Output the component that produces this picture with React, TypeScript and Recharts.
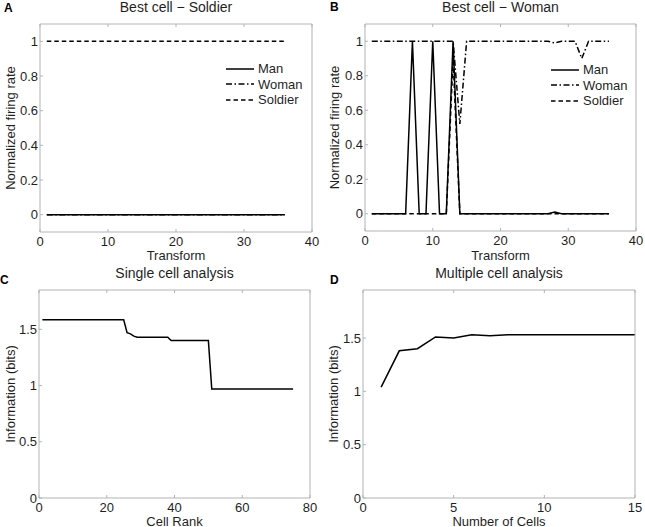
import { LineChart, Line, XAxis, YAxis, Legend } from 'recharts';

const FONT = '"Liberation Sans", Arial, Helvetica, sans-serif';
const BOX = '#b3b3b3';
const INK = '#1f1f1f';

// Panels A and B: x positions (transform index)
const transformSteps = [
  1, 2, 3, 4, 5, 6, 7, 8, 9, 10, 11, 12, 13, 14, 15, 16, 17, 18,
  19, 20, 21, 22, 23, 24, 25, 26, 27, 28, 29, 30, 31, 32, 33, 34, 35, 36,
];

// A: best cell for soldier
const soldierCellMan = [
  0, 0, 0, 0, 0, 0, 0, 0, 0, 0, 0, 0, 0, 0, 0, 0, 0, 0,
  0, 0, 0, 0, 0, 0, 0, 0, 0, 0, 0, 0, 0, 0, 0, 0, 0, 0,
];
const soldierCellWoman = [
  0, 0, 0, 0, 0, 0, 0, 0, 0, 0, 0, 0, 0, 0, 0, 0, 0, 0,
  0, 0, 0, 0, 0, 0, 0, 0, 0, 0, 0, 0, 0, 0, 0, 0, 0, 0,
];
const soldierCellSoldier = [
  1, 1, 1, 1, 1, 1, 1, 1, 1, 1, 1, 1, 1, 1, 1, 1, 1, 1,
  1, 1, 1, 1, 1, 1, 1, 1, 1, 1, 1, 1, 1, 1, 1, 1, 1, 1,
];

// B: best cell for woman
const womanCellMan = [
  0, 0, 0, 0, 0, 0, 1, 0, 0, 1, 0, 0, 1, 0, 0, 0, 0, 0,
  0, 0, 0, 0, 0, 0, 0, 0, 0, 0.01, 0, 0, 0, 0, 0, 0, 0, 0,
];
const womanCellWoman = [
  1, 1, 1, 1, 1, 1, 1, 1, 1, 1, 1, 1, 1, 0.52, 1, 1, 1, 1,
  1, 1, 1, 1, 1, 1, 1, 1, 1, 0.99, 1, 1, 1, 0.9, 1, 1, 1, 1,
];
const womanCellSoldier = [
  0, 0, 0, 0, 0, 0, 0, 0, 0, 0, 0, 0, 0.9, 0, 0, 0, 0, 0,
  0, 0, 0, 0, 0, 0, 0, 0, 0, 0, 0, 0, 0, 0, 0, 0, 0, 0,
];

// C: single cell analysis
const cellRank = [
  1, 2, 3, 4, 5, 6, 7, 8, 9, 10, 11, 12, 13, 14, 15, 16, 17, 18, 19, 20,
  21, 22, 23, 24, 25, 26, 27, 28, 29, 30, 31, 32, 33, 34, 35, 36, 37, 38, 39, 40,
  41, 42, 43, 44, 45, 46, 47, 48, 49, 50, 51, 52, 53, 54, 55, 56, 57, 58, 59, 60,
  61, 62, 63, 64, 65, 66, 67, 68, 69, 70, 71, 72, 73, 74, 75,
];
const singleCellInfo = [
  1.585, 1.585, 1.585, 1.585, 1.585, 1.585, 1.585, 1.585, 1.585, 1.585,
  1.585, 1.585, 1.585, 1.585, 1.585, 1.585, 1.585, 1.585, 1.585, 1.585,
  1.585, 1.585, 1.585, 1.585, 1.585, 1.47, 1.46, 1.44, 1.43, 1.43,
  1.43, 1.43, 1.43, 1.43, 1.43, 1.43, 1.43, 1.43, 1.4, 1.4,
  1.4, 1.4, 1.4, 1.4, 1.4, 1.4, 1.4, 1.4, 1.4, 1.4,
  0.97, 0.97, 0.97, 0.97, 0.97, 0.97, 0.97, 0.97, 0.97, 0.97,
  0.97, 0.97, 0.97, 0.97, 0.97, 0.97, 0.97, 0.97, 0.97, 0.97,
  0.97, 0.97, 0.97, 0.97, 0.97,
];

// D: multiple cell analysis
const cellCount = [1, 2, 3, 4, 5, 6, 7, 8, 9, 10, 11, 12, 13, 14, 15];
const multiCellInfo = [1.04, 1.38, 1.4, 1.51, 1.5, 1.53, 1.52, 1.53, 1.53, 1.53, 1.53, 1.53, 1.53, 1.53, 1.53];

const rateTicks = [0, 0.2, 0.4, 0.6, 0.8, 1];
const transformTicks = [0, 10, 20, 30, 40];
const rankTicks = [0, 20, 40, 60, 80];
const countTicks = [0, 5, 10, 15];
const infoTicks = [0, 0.5, 1, 1.5];

const SOLID = undefined;
const DASHDOT = '6 2.5 1.5 2.5';
const DASHED = '4.5 3';

type Series = { key: string; name: string; values: number[]; dash?: string };

function toRows(xs: number[], series: Series[]) {
  return xs.map((x, i) => {
    const row: any = { x };
    series.forEach((s) => (row[s.key] = s.values[i]));
    return row;
  });
}

function LegendBox({ series }: { series: Series[] }) {
  return (
    <div style={{ fontFamily: FONT, fontSize: 13, color: INK }}>
      {series.map((s) => (
        <div key={s.key} style={{ display: 'flex', alignItems: 'center', height: 15.5 }}>
          <svg width={28} height={6}>
            <line x1={0} y1={3} x2={28} y2={3} stroke="#000" strokeWidth={1.5} strokeDasharray={s.dash} />
          </svg>
          <span style={{ marginLeft: 4, lineHeight: '15.5px' }}>{s.name}</span>
        </div>
      ))}
    </div>
  );
}

function Panel(p: any) {
  const rows = toRows(p.xs, p.series);
  const text = { fill: INK, fontSize: 13, fontFamily: FONT };
  return (
    <div style={{ position: 'absolute', left: p.left, top: p.top }}>
      <LineChart
        width={p.width}
        height={p.height}
        data={rows}
        margin={{ top: p.marginTop - 1, right: p.marginRight - 1, bottom: p.marginBottom || 0, left: 0 }}
      >
        <XAxis
          dataKey="x"
          type="number"
          domain={p.xDomain}
          ticks={p.xTicks}
          interval={0}
          height={p.xAxisHeight}
          tickSize={-3}
          tickMargin={p.xTickMargin}
          stroke={BOX}
          tick={text}
          label={{ value: p.xLabel, position: 'insideBottom', offset: p.xLabelOffset, ...text }}
        />
        <XAxis
          xAxisId="top"
          orientation="top"
          dataKey="x"
          type="number"
          domain={p.xDomain}
          ticks={p.xTicks}
          interval={0}
          height={1}
          tickSize={-3}
          stroke={BOX}
          tickFormatter={() => ''}
          label={{ value: p.title, position: 'top', offset: 11, ...text, fontSize: 14 }}
        />
        <YAxis
          type="number"
          domain={p.yDomain}
          ticks={p.yTicks}
          interval={0}
          width={p.yAxisWidth}
          tickSize={-3}
          tickMargin={5}
          stroke={BOX}
          tick={text}
          label={{
            value: p.yLabel,
            angle: -90,
            position: 'insideLeft',
            offset: p.yLabelOffset,
            ...text,
            style: { textAnchor: 'middle' },
          }}
        />
        <YAxis
          yAxisId="right"
          orientation="right"
          type="number"
          domain={p.yDomain}
          ticks={p.yTicks}
          interval={0}
          width={1}
          tickSize={-3}
          stroke={BOX}
          tickFormatter={() => ''}
        />
        {p.series.map((s: Series) => (
          <Line
            key={s.key}
            dataKey={s.key}
            name={s.name}
            type="linear"
            stroke="#000"
            strokeWidth={1.5}
            strokeDasharray={s.dash}
            dot={false}
            activeDot={false}
            isAnimationActive={false}
          />
        ))}
        {p.legend && (
          <Legend
            layout="vertical"
            align="center"
            verticalAlign="middle"
            wrapperStyle={{ left: p.legend.left, top: p.legend.top, width: 'auto' }}
            content={() => <LegendBox series={p.series} />}
          />
        )}
      </LineChart>
    </div>
  );
}

const seriesA: Series[] = [
  { key: 'man', name: 'Man', values: soldierCellMan, dash: SOLID },
  { key: 'woman', name: 'Woman', values: soldierCellWoman, dash: DASHDOT },
  { key: 'soldier', name: 'Soldier', values: soldierCellSoldier, dash: DASHED },
];
const seriesB: Series[] = [
  { key: 'man', name: 'Man', values: womanCellMan, dash: SOLID },
  { key: 'woman', name: 'Woman', values: womanCellWoman, dash: DASHDOT },
  { key: 'soldier', name: 'Soldier', values: womanCellSoldier, dash: DASHED },
];
const seriesC: Series[] = [{ key: 'info', name: 'Information', values: singleCellInfo }];
const seriesD: Series[] = [{ key: 'info', name: 'Information', values: multiCellInfo }];

export default function App() {
  return (
    <div style={{ position: 'absolute', left: 0, top: 0, width: 645, height: 527, background: '#fff' }}>
      <Panel
        left={0} top={0} width={322} height={265} marginTop={24} marginRight={10} marginBottom={5}
        xs={transformSteps} series={seriesA}
        xDomain={[0, 40]} xTicks={transformTicks} yDomain={[-0.1, 1.1]} yTicks={rateTicks}
        yAxisWidth={40} xAxisHeight={28} xTickMargin={8} xLabelOffset={0} yLabelOffset={10}
        title="Best cell − Soldier" xLabel="Transform" yLabel="Normalized firing rate"
        legend={{ left: 226, top: 61 }}
      />
      <Panel
        left={322} top={0} width={323} height={265} marginTop={24} marginRight={9} marginBottom={5}
        xs={transformSteps} series={seriesB}
        xDomain={[0, 40]} xTicks={transformTicks} yDomain={[-0.1, 1.1]} yTicks={rateTicks}
        yAxisWidth={43} xAxisHeight={29} xTickMargin={8} xLabelOffset={0} yLabelOffset={12}
        title="Best cell − Woman" xLabel="Transform" yLabel="Normalized firing rate"
        legend={{ left: 229, top: 62 }}
      />
      <Panel
        left={0} top={260} width={322} height={267} marginTop={30} marginRight={12}
        xs={cellRank} series={seriesC}
        xDomain={[0, 80]} xTicks={rankTicks} yDomain={[0, 1.85]} yTicks={infoTicks}
        yAxisWidth={39} xAxisHeight={29} xTickMargin={8} xLabelOffset={1} yLabelOffset={10}
        title="Single cell analysis" xLabel="Cell Rank" yLabel="Information (bits)"
      />
      <Panel
        left={322} top={260} width={323} height={267} marginTop={30} marginRight={10}
        xs={cellCount} series={seriesD}
        xDomain={[0, 15]} xTicks={countTicks} yDomain={[0, 1.95]} yTicks={infoTicks}
        yAxisWidth={41} xAxisHeight={29} xTickMargin={8} xLabelOffset={1} yLabelOffset={11}
        title="Multiple cell analysis" xLabel="Number of Cells" yLabel="Information (bits)"
      />
      <svg
        width={645}
        height={527}
        style={{ position: 'absolute', left: 0, top: 0, pointerEvents: 'none' }}
        fontFamily={FONT}
        fontWeight="bold"
        fontSize={12}
        fill="#000"
      >
        <text x={4} y={12}>A</text>
        <text x={330} y={11}>B</text>
        <text x={0} y={284}>C</text>
        <text x={330} y={284}>D</text>
      </svg>
    </div>
  );
}
